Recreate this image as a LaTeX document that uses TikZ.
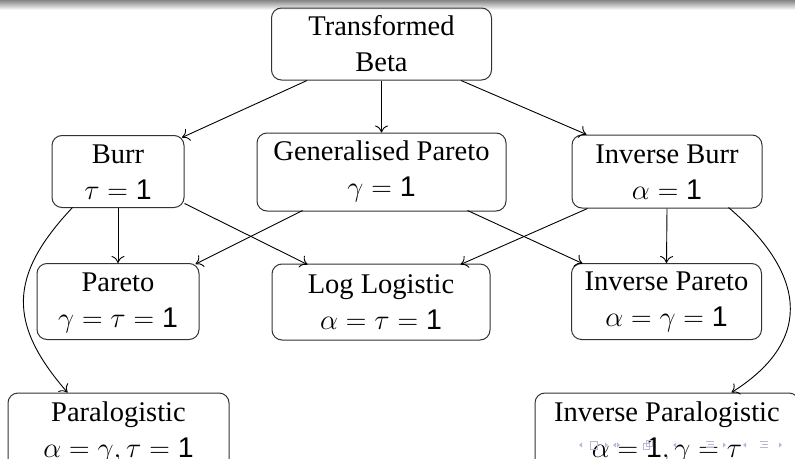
\documentclass[tikz,border=0pt]{standalone}
\usepackage{fix-cm}
\usepackage[no-math]{fontspec}
\setmainfont{Liberation Serif}
\setsansfont{Liberation Sans}
\usetikzlibrary{arrows.meta,calc}
\newcommand{\sfone}{\mbox{\sffamily 1}}
% two-line label with fixed strut height (first line) and depth (last line)
\newcommand{\twol}[4]{\rule{0pt}{#1pt}#3\\#4\rule[-#2pt]{0pt}{#2pt}}
\definecolor{navc}{RGB}{185,185,215}
\tikzset{
  dbox/.style={draw=black!80, line width=1pt, rounded corners=10pt, align=center,
    inner sep=0pt, font=\fontsize{28.5}{36}\selectfont},
  arr/.style={-{Computer Modern Rightarrow[length=7pt,width=13pt]}, line width=0.9pt},
  navtri/.style={fill=navc},
  navline/.style={draw=navc, line width=0.8pt}
}
\begin{document}
\begin{tikzpicture}[x=1pt,y=-1pt]
\useasboundingbox (0,0) rectangle (795,458);
\clip (0,0) rectangle (795,458);
\fill[white] (0,0) rectangle (795,458);
\shade[top color=black!48, bottom color=white] (0,0) rectangle (795,10);

% nodes
\node[dbox, minimum width=220pt, minimum height=72pt] (tb) at (381.5,44) {\twol{20}{2}{Transformed}{Beta}};
\node[dbox, minimum width=132pt, minimum height=72pt] (burr) at (118,171.5) {\twol{20}{1}{Burr}{$\tau=\sfone$}};
\node[dbox, minimum width=249pt, minimum height=78pt] (gp) at (381.5,172) {\twol{20}{6.6}{Generalised Pareto}{$\gamma=\sfone$}};
\node[dbox, minimum width=190pt, minimum height=73pt] (ib) at (667,171.5) {\twol{20}{1}{Inverse Burr}{$\alpha=\sfone$}};
\node[dbox, minimum width=162pt, minimum height=76pt] (par) at (118,301.5) {\twol{21}{6}{Pareto}{$\gamma=\tau=\sfone$}};
\node[dbox, minimum width=218pt, minimum height=76pt] (ll) at (381,302) {\twol{20}{2}{Log Logistic}{$\alpha=\tau=\sfone$}};
\node[dbox, minimum width=190pt, minimum height=76pt] (ip) at (666.5,301.5) {\twol{20}{7}{Inverse Pareto}{$\alpha=\gamma=\sfone$}};
\node[dbox, minimum width=221pt, minimum height=78pt] (pl) at (118.5,432) {\twol{20}{6}{Paralogistic}{$\alpha=\gamma, \tau=\sfone$}};
\node[dbox, minimum width=264pt, minimum height=78pt] (ipl) at (667,432) {\twol{20}{6}{Inverse Paralogistic}{$\alpha=\sfone, \gamma=\tau$}};

% connectors
\draw[arr] ($(tb.south)+(-74.5,0)$) -- ($(burr.north east)+(-2.5,2.5)$);
\draw[arr] (tb.south) -- (gp.north);
\draw[arr] ($(tb.south)+(79.5,0)$) -- ($(ib.north west)+(15,0)$);
\draw[arr] (burr.south) -- (par.north);
\draw[arr] ($(burr.south east)+(0,-4.5)$) -- ($(ll.north west)+(36,1)$);
\draw[arr] ($(gp.south west)+(46,-1)$) -- ($(par.north east)+(-4,1)$);
\draw[arr] ($(gp.south east)+(-39,-1)$) -- ($(ip.north west)+(11.5,0.5)$);
\draw[arr] ($(ib.south west)+(16,0)$) -- ($(ll.north east)+(-30,1)$);
\draw[arr] (ib.south) -- (ip.north);
\draw[arr] ($(burr.south west)+(21,-0.5)$) .. controls (8,276) and (8,324) .. ($(pl.north west)+(60,0)$);
\draw[arr] ($(ib.south east)+(-34,-1)$) .. controls (802,270) and (818,338) .. ($(ipl.north west)+(197,0)$);

% navigation symbols
\foreach \x in {579,613,673,743} {\fill[navtri] (\x,445) -- ++(3,-2.5) -- ++(0,5) -- cycle;}
\foreach \x in {605,617,723,779} {\fill[navtri] (\x+3,445) -- ++(-3,-2.5) -- ++(0,5) -- cycle;}
\draw[navline] (590,441) rectangle (597,449);
\draw[navline] (643,443) rectangle (649,449);
\draw[navline] (646,440) rectangle (652,446);
\foreach \x in {706,760} {
  \draw[navline] (\x,441.5) -- ++(8,0);
  \draw[navline] (\x+2,444.5) -- ++(6,0);
  \draw[navline] (\x,447.5) -- ++(8,0);
}
\end{tikzpicture}
\end{document}
